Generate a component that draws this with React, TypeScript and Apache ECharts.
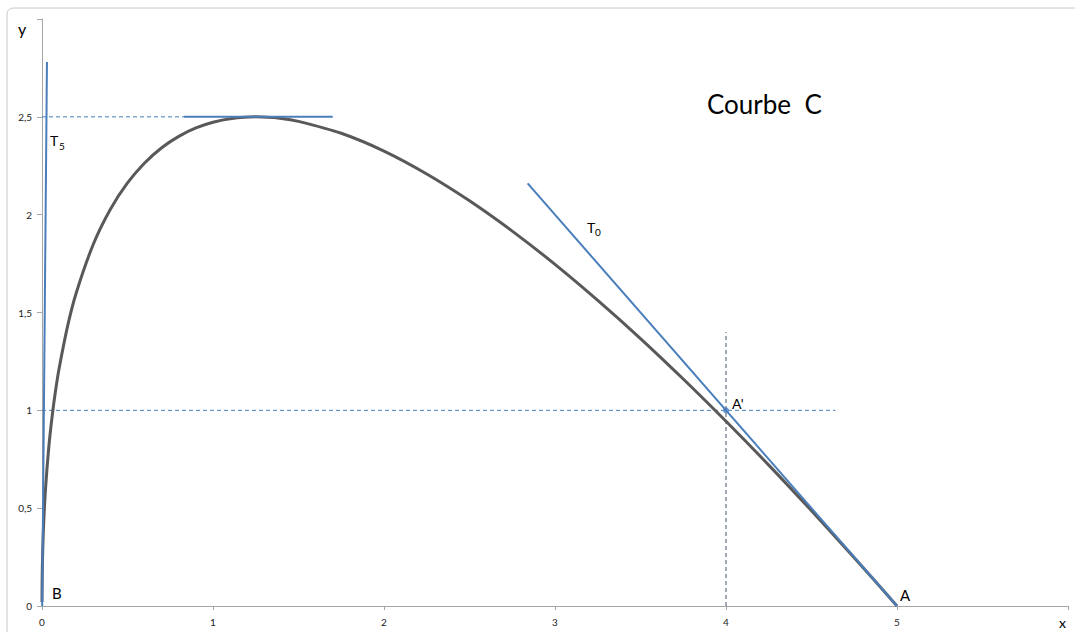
import React, { useEffect, useRef } from "react";
import * as echarts from "echarts";

// Curve C
const curveX = [0, 0.0005, 0.002, 0.005, 0.01, 0.02, 0.04, 0.06, 0.08, 0.1, 0.15, 0.2, 0.3, 0.4, 0.5, 0.6, 0.7, 0.8, 0.9, 1.0, 1.1, 1.25, 1.4, 1.5, 1.75, 2.0, 2.25, 2.5, 2.75, 3.0, 3.25, 3.5, 3.75, 4.0, 4.25, 4.5, 4.75, 5.0];
const curveY = [0.02, 0.1, 0.196, 0.306, 0.427, 0.592, 0.814, 0.975, 1.105, 1.214, 1.432, 1.6, 1.849, 2.028, 2.162, 2.264, 2.342, 2.4, 2.443, 2.472, 2.49, 2.5, 2.492, 2.477, 2.416, 2.325, 2.208, 2.071, 1.916, 1.746, 1.562, 1.367, 1.16, 0.944, 0.72, 0.487, 0.247, 0];

// Tangents
const t0X = [2.84, 5.0];
const t0Y = [2.16, 0];
const t5X = [0.001, 0.029];
const t5Y = [0, 2.78];
const topTangentX = [0.83, 1.7];
const topTangentY = [2.5, 2.5];

// Dashed guides
const guideTopX = [0, 0.83];
const guideTopY = [2.5, 2.5];
const guideOneX = [0, 4.64];
const guideOneY = [1, 1];
const guideVertX = [4, 4];
const guideVertY = [0, 1.4];

// Point A'
const pointA1 = [4, 1];

const xTicks = { min: 0, max: 6, interval: 1 };
const yTicks = { min: 0, max: 3, interval: 0.5 };

const zip = (xs: number[], ys: number[]) => xs.map((x, i) => [x, ys[i]]);

const BLUE = "#4a7ebb";
const FONT = "Lato, 'Liberation Sans', sans-serif";

export default function App() {
  const ref = useRef<HTMLDivElement>(null);
  useEffect(() => {
    if (!ref.current) return;
    const chart = echarts.init(ref.current, undefined, { renderer: "svg" });
    const fmt = (v: number) => String(v).replace(".", ",");
    chart.setOption({
      animation: false,
      backgroundColor: "#ffffff",
      grid: { left: 42, right: 7, top: 19, bottom: 26 },
      xAxis: {
        type: "value",
        min: xTicks.min,
        max: xTicks.max,
        interval: xTicks.interval,
        splitLine: { show: false },
        axisLine: { onZero: false, lineStyle: { color: "#a6a6a6", width: 1 } },
        axisTick: { show: true, length: 4, lineStyle: { color: "#a6a6a6" } },
        axisLabel: {
          margin: 11,
          fontSize: 10,
          color: "#222222",
          fontFamily: FONT,
          formatter: (v: number) => (v === xTicks.max ? "" : fmt(v)),
        },
      },
      yAxis: {
        type: "value",
        min: yTicks.min,
        max: yTicks.max,
        interval: yTicks.interval,
        splitLine: { show: false },
        axisLine: { onZero: false, lineStyle: { color: "#a6a6a6", width: 1 } },
        axisTick: { show: true, length: 5, lineStyle: { color: "#a6a6a6" } },
        axisLabel: {
          margin: 10,
          fontSize: 10,
          color: "#222222",
          fontFamily: FONT,
          formatter: (v: number) => (v === yTicks.max ? "" : fmt(v)),
        },
      },
      series: [
        {
          type: "line",
          data: zip(guideTopX, guideTopY),
          showSymbol: false,
          lineStyle: { color: BLUE, width: 1, type: [4, 3] },
          z: 1,
        },
        {
          type: "line",
          data: zip(guideOneX, guideOneY),
          showSymbol: false,
          lineStyle: { color: BLUE, width: 1, type: [4, 3] },
          z: 1,
        },
        {
          type: "line",
          data: zip(guideVertX, guideVertY),
          showSymbol: false,
          lineStyle: { color: "#44546a", width: 1, type: [4, 3] },
          z: 1,
        },
        {
          type: "line",
          data: zip(curveX, curveY),
          showSymbol: false,
          smooth: 0.3,
          lineStyle: { color: "#595959", width: 3 },
          z: 2,
        },
        {
          type: "line",
          data: zip(t0X, t0Y),
          showSymbol: false,
          lineStyle: { color: BLUE, width: 2 },
          z: 3,
        },
        {
          type: "line",
          data: zip(t5X, t5Y),
          showSymbol: false,
          lineStyle: { color: BLUE, width: 2 },
          z: 3,
        },
        {
          type: "line",
          data: zip(topTangentX, topTangentY),
          showSymbol: false,
          lineStyle: { color: BLUE, width: 2 },
          z: 3,
        },
        {
          type: "scatter",
          data: [pointA1],
          symbolSize: 6,
          itemStyle: { color: BLUE },
          z: 4,
        },
      ],
      graphic: [
        {
          type: "rect",
          shape: { x: 7, y: 8, width: 1090, height: 640, r: 6 },
          style: { fill: "none", stroke: "#c8c8c8", lineWidth: 1 },
          silent: true,
          z: -1,
        },
        { type: "text", x: 707, y: 91, style: { text: "Courbe  C", font: `26px ${FONT}`, fill: "#000000" } },
        { type: "text", x: 18, y: 20, style: { text: "y", font: `16px ${FONT}`, fill: "#000000" } },
        { type: "text", x: 1059, y: 615, style: { text: "x", font: `14px ${FONT}`, fill: "#000000" } },
        { type: "text", x: 50, y: 133, style: { text: "T", font: `14px ${FONT}`, fill: "#000000" } },
        { type: "text", x: 59, y: 141, style: { text: "5", font: `10px ${FONT}`, fill: "#000000" } },
        { type: "text", x: 587, y: 220, style: { text: "T", font: `14px ${FONT}`, fill: "#000000" } },
        { type: "text", x: 595, y: 227, style: { text: "0", font: `10px ${FONT}`, fill: "#000000" } },
        { type: "text", x: 732, y: 396, style: { text: "A'", font: `14px ${FONT}`, fill: "#000000" } },
        { type: "text", x: 52, y: 585, style: { text: "B", font: `15px ${FONT}`, fill: "#000000" } },
        { type: "text", x: 900, y: 587, style: { text: "A", font: `15px ${FONT}`, fill: "#000000" } },
      ],
    });
    return () => chart.dispose();
  }, []);
  return (
    <div
      ref={ref}
      style={{ position: "absolute", left: 0, top: 0, width: 1075, height: 632 }}
    />
  );
}
